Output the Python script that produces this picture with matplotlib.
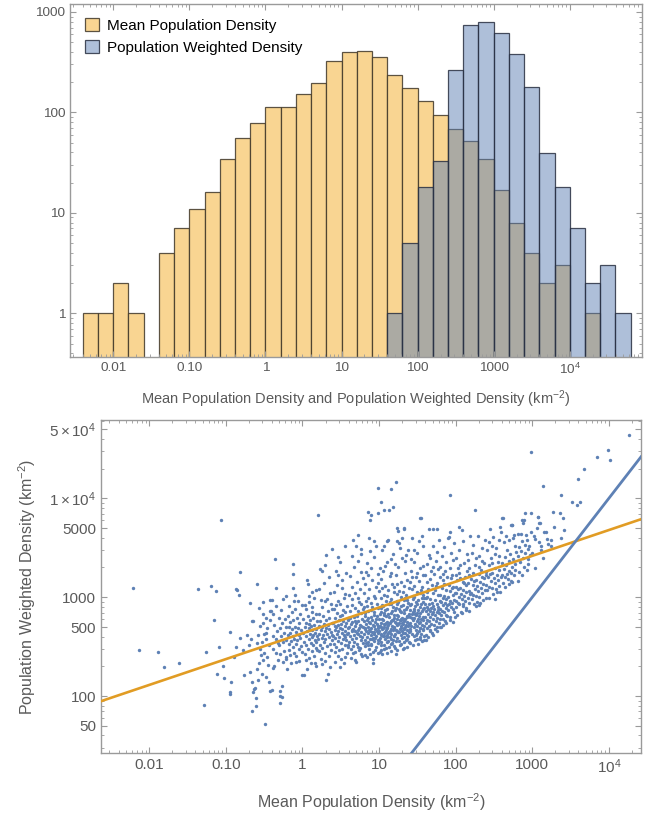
import numpy as np
import matplotlib.pyplot as plt
from matplotlib.patches import Patch
from matplotlib.ticker import LogLocator, NullFormatter

plt.rcParams['font.family'] = ['Liberation Sans', 'DejaVu Sans']
plt.rcParams['mathtext.fontset'] = 'custom'
plt.rcParams['mathtext.rm'] = 'Liberation Sans'
plt.rcParams['mathtext.it'] = 'Liberation Sans:italic'

# ---- histogram data: 0.2-decade bins starting at 10^-2.4 ----
BIN_START, BIN_WIDTH = -2.4, 0.2
mean_counts = [1, 1, 2, 1, 0, 4, 7, 11, 16, 34, 56, 79, 114, 112, 152, 195, 322,
               398, 413, 355, 235, 174, 131, 94, 68, 52, 34, 17, 8, 4, 2, 3, 0,
               1, 0, 0]
weighted_counts = [0, 0, 0, 0, 0, 0, 0, 0, 0, 0, 0, 0, 0, 0, 0, 0, 0, 0, 0, 0,
                   1, 5, 18, 33, 264, 738, 795, 618, 385, 178, 39, 18, 7, 2, 3, 1]

# ---- scatter: (log10 mean density, log10 weighted density) pairs ----
sparse_left = [
    -2.21, 3.09, -2.14, 2.47, -1.89, 2.45, -1.81, 2.29, -1.61, 2.34,
    -1.37, 3.08, -1.29, 1.91, -1.26, 2.45, -1.20, 3.11,
    -1.16, 2.77, -1.13, 3.06, -1.11, 2.22, -1.09, 2.50, -1.07, 3.78, -1.04, 2.30, -1.03, 2.18,
    -0.95, 2.04, -0.94, 2.02, -0.94, 2.65, -0.93, 2.14, -0.90, 2.40, -0.87, 3.08, -0.86, 3.07,
    -0.87, 2.50, -0.83, 3.02, -0.81, 3.26, -0.81, 2.59,
    -0.78, 2.47, -0.76, 2.21, -0.73, 2.62, -0.70, 2.52, -0.69, 2.24, -0.68, 2.94, -0.67, 2.58,
    -0.66, 2.76, -0.65, 2.76, -0.66, 2.14, -0.66, 1.85, -0.64, 2.04, -0.63, 2.07, -0.62, 2.08,
    -0.61, 1.98, -0.61, 1.90,
    -0.59, 3.13, -0.59, 2.54, -0.59, 2.27, -0.58, 2.16, -0.57, 2.33, -0.54, 2.42, -0.52, 2.95,
    -0.52, 2.74, -0.52, 2.37, -0.49, 1.72, -0.48, 2.79, -0.48, 2.64, -0.48, 2.19, -0.42, 2.86,
    -0.41, 2.86, -0.42, 2.97, -0.40, 2.97, -0.42, 2.05, -0.40, 2.06,
    -0.58, 2.62, -0.56, 2.48, -0.55, 2.71, -0.53, 2.55, -0.51, 2.83, -0.50, 2.44, -0.47, 2.58,
    -0.46, 2.69, -0.45, 2.31, -0.44, 2.52, -0.43, 2.77, -0.44, 2.14, -0.57, 2.89, -0.50, 2.63,
    -0.46, 2.40, -0.53, 2.22,
]

cloud_low = [
    # -0.4 .. -0.2
    -0.39, 2.28, -0.36, 3.39, -0.34, 3.09, -0.37, 2.30, -0.30, 2.05, -0.29, 1.93, -0.27, 2.10,
    -0.27, 1.99, -0.32, 2.54, -0.22, 3.01, -0.29, 2.00, -0.38, 2.48,
    -0.39, 2.61, -0.38, 2.83, -0.37, 2.72, -0.35, 2.44, -0.35, 2.58, -0.34, 2.91, -0.33, 2.66,
    -0.32, 2.37, -0.31, 2.79, -0.31, 2.52, -0.30, 2.69, -0.29, 2.43, -0.28, 2.87, -0.28, 2.61,
    -0.27, 2.74, -0.26, 2.35, -0.26, 2.55, -0.25, 2.98, -0.24, 2.64, -0.24, 2.46, -0.23, 2.78,
    -0.22, 2.57, -0.21, 2.70, -0.21, 2.40,
    # -0.2 .. 0
    -0.20, 2.27, -0.21, 2.38, -0.16, 2.42, -0.13, 3.23, -0.12, 3.34, -0.13, 3.09, -0.10, 3.02,
    -0.09, 2.35, -0.11, 2.96,
    -0.19, 2.62, -0.19, 2.81, -0.18, 2.53, -0.18, 2.70, -0.17, 2.47, -0.17, 2.91, -0.16, 2.64,
    -0.16, 2.75, -0.15, 2.56, -0.15, 2.33, -0.14, 2.68, -0.14, 2.85, -0.13, 2.50, -0.12, 2.61,
    -0.12, 2.77, -0.11, 2.44, -0.11, 2.58, -0.10, 2.70, -0.10, 2.88, -0.09, 2.53, -0.08, 2.65,
    -0.08, 2.41, -0.07, 2.79, -0.07, 2.57, -0.06, 2.69, -0.06, 2.96, -0.05, 2.48, -0.05, 2.62,
    -0.04, 2.74, -0.04, 2.36, -0.03, 2.59, -0.03, 2.83, -0.02, 2.51, -0.02, 2.67, -0.01, 2.45,
    -0.01, 2.92,
    # 0 .. 0.2
    0.06, 3.17, 0.06, 2.27, 0.02, 2.21, 0.16, 2.33, 0.20, 3.83, 0.07, 3.13, 0.00, 2.21, 0.12, 3.05,
    0.01, 2.64, 0.01, 2.78, 0.02, 2.55, 0.03, 2.70, 0.03, 2.43, 0.04, 2.61, 0.04, 2.88, 0.05, 2.52,
    0.05, 2.74, 0.06, 2.66, 0.07, 2.48, 0.07, 2.81, 0.08, 2.58, 0.08, 2.69, 0.09, 2.39, 0.09, 2.95,
    0.10, 2.63, 0.10, 2.77, 0.11, 2.54, 0.11, 2.71, 0.12, 2.46, 0.12, 2.85, 0.13, 2.60, 0.13, 2.67,
    0.14, 2.52, 0.14, 2.79, 0.15, 2.41, 0.15, 2.72, 0.15, 2.99, 0.16, 2.57, 0.16, 2.64, 0.17, 2.49,
    0.17, 2.83, 0.18, 2.68, 0.18, 2.55, 0.18, 2.30, 0.19, 2.76, 0.19, 2.61, 0.03, 2.92, 0.08, 3.01,
    0.11, 2.34, 0.13, 2.90, 0.05, 2.37, 0.17, 3.07, 0.09, 2.73, 0.14, 2.62, 0.19, 2.47,
    # 0.2 .. 0.4
    0.23, 3.29, 0.25, 3.27, 0.31, 3.43, 0.29, 3.33, 0.31, 2.16, 0.38, 3.49, 0.33, 2.22,
    0.20, 2.58, 0.21, 2.71, 0.21, 2.46, 0.22, 2.83, 0.22, 2.63, 0.23, 2.52, 0.23, 2.76, 0.24, 2.67,
    0.24, 2.38, 0.25, 2.59, 0.25, 2.90, 0.26, 2.70, 0.26, 2.49, 0.27, 2.62, 0.27, 2.81, 0.28, 2.55,
    0.28, 2.73, 0.29, 2.44, 0.29, 2.66, 0.30, 2.96, 0.30, 2.58, 0.31, 2.69, 0.31, 2.77, 0.32, 2.51,
    0.32, 2.63, 0.33, 2.86, 0.33, 2.72, 0.34, 2.41, 0.34, 2.60, 0.35, 2.68, 0.35, 2.79, 0.36, 2.53,
    0.36, 3.04, 0.37, 2.65, 0.37, 2.47, 0.38, 2.74, 0.38, 2.57, 0.39, 2.88, 0.39, 2.62, 0.22, 3.08,
    0.26, 2.32, 0.28, 3.14, 0.32, 2.98, 0.34, 3.20, 0.36, 2.29, 0.24, 2.97, 0.37, 2.93, 0.30, 2.36,
]

cloud_mid = [
    # 0.4 .. 0.6
    0.55, 3.52, 0.47, 3.41, 0.49, 3.36, 0.49, 2.29, 0.44, 3.27,
    0.40, 2.61, 0.40, 2.74, 0.41, 2.53, 0.41, 2.88, 0.42, 2.67, 0.42, 2.45, 0.43, 2.79, 0.43, 2.59,
    0.44, 2.70, 0.44, 2.50, 0.45, 2.63, 0.45, 2.84, 0.46, 2.56, 0.46, 2.72, 0.47, 2.66, 0.47, 2.41,
    0.48, 2.77, 0.48, 2.60, 0.49, 2.69, 0.49, 2.93, 0.50, 2.54, 0.50, 2.73, 0.51, 2.64, 0.51, 2.82,
    0.52, 2.48, 0.52, 2.68, 0.53, 2.58, 0.53, 2.76, 0.54, 2.62, 0.54, 2.99, 0.55, 2.71, 0.55, 2.52,
    0.56, 2.66, 0.56, 2.85, 0.57, 2.57, 0.57, 2.74, 0.58, 2.44, 0.58, 2.63, 0.59, 2.79, 0.59, 2.69,
    0.41, 3.05, 0.43, 2.35, 0.45, 3.12, 0.47, 2.96, 0.50, 2.38, 0.52, 3.17, 0.54, 2.33, 0.56, 3.03,
    0.58, 2.91, 0.44, 2.92, 0.46, 3.22, 0.48, 2.47, 0.51, 3.09, 0.53, 2.87, 0.55, 2.60, 0.57, 3.25,
    0.59, 2.50, 0.42, 2.71, 0.49, 2.81, 0.56, 2.40,
    # 0.6 .. 0.8
    0.73, 3.63, 0.66, 3.58, 0.70, 3.52, 0.77, 3.49, 0.70, 2.35,
    0.60, 2.64, 0.60, 2.77, 0.61, 2.55, 0.61, 2.70, 0.62, 2.86, 0.62, 2.61, 0.63, 2.48, 0.63, 2.73,
    0.64, 2.66, 0.64, 2.92, 0.65, 2.58, 0.65, 2.75, 0.66, 2.51, 0.66, 2.68, 0.67, 2.80, 0.67, 2.62,
    0.68, 2.71, 0.68, 2.45, 0.69, 2.66, 0.69, 2.89, 0.70, 2.59, 0.70, 2.74, 0.71, 2.53, 0.71, 2.81,
    0.72, 2.67, 0.72, 2.63, 0.73, 2.76, 0.73, 2.50, 0.74, 2.69, 0.74, 2.95, 0.75, 2.61, 0.75, 2.72,
    0.76, 2.57, 0.76, 2.84, 0.77, 2.65, 0.77, 2.43, 0.78, 2.78, 0.78, 2.60, 0.79, 2.70, 0.79, 2.54,
    0.61, 3.02, 0.62, 3.21, 0.63, 2.39, 0.64, 3.10, 0.65, 2.98, 0.66, 2.44, 0.67, 3.31, 0.68, 3.04,
    0.69, 2.37, 0.71, 3.15, 0.72, 2.99, 0.73, 3.37, 0.74, 2.47, 0.75, 3.08, 0.76, 3.26, 0.77, 2.93,
    0.78, 2.41, 0.79, 3.19, 0.60, 2.52, 0.62, 2.79, 0.65, 2.67, 0.67, 2.55, 0.69, 2.76, 0.71, 2.64,
    0.73, 2.86, 0.75, 2.49, 0.77, 2.71, 0.79, 2.88, 0.64, 3.42, 0.76, 3.44,
    # 0.8 .. 1.0
    0.86, 3.86, 0.90, 3.83, 0.88, 3.78, 0.98, 3.85, 0.98, 4.10, 0.94, 3.57,
    0.80, 2.63, 0.80, 2.76, 0.81, 2.57, 0.81, 2.69, 0.82, 2.84, 0.82, 2.51, 0.83, 2.66, 0.83, 2.73,
    0.84, 2.60, 0.84, 2.91, 0.85, 2.55, 0.85, 2.70, 0.86, 2.64, 0.86, 2.79, 0.87, 2.48, 0.87, 2.67,
    0.88, 2.58, 0.88, 2.74, 0.89, 2.62, 0.89, 2.87, 0.90, 2.53, 0.90, 2.69, 0.91, 2.65, 0.91, 2.77,
    0.92, 2.59, 0.92, 2.45, 0.93, 2.71, 0.93, 2.63, 0.94, 2.82, 0.94, 2.56, 0.95, 2.68, 0.95, 2.75,
    0.96, 2.61, 0.96, 2.50, 0.97, 2.73, 0.97, 2.66, 0.98, 2.57, 0.98, 2.89, 0.99, 2.64, 0.99, 2.71,
    0.80, 3.04, 0.81, 2.42, 0.82, 3.13, 0.83, 2.96, 0.84, 2.40, 0.85, 3.22, 0.86, 2.99, 0.87, 3.08,
    0.88, 2.43, 0.89, 3.30, 0.90, 2.94, 0.91, 3.17, 0.92, 2.38, 0.93, 3.01, 0.94, 3.41, 0.95, 2.47,
    0.96, 3.10, 0.97, 2.93, 0.98, 3.24, 0.99, 2.44, 0.81, 2.81, 0.83, 2.54, 0.85, 2.86, 0.87, 2.75,
    0.89, 2.52, 0.91, 2.58, 0.93, 2.85, 0.95, 2.59, 0.97, 2.81, 0.99, 2.54, 0.82, 2.68, 0.84, 2.77,
    0.86, 2.52, 0.88, 2.66, 0.90, 2.80, 0.92, 2.72, 0.94, 2.65, 0.96, 2.78, 0.98, 2.69, 0.80, 2.90,
    0.84, 3.35, 0.88, 3.47, 0.92, 2.33, 0.96, 3.52, 0.83, 3.26, 0.87, 3.60, 0.91, 2.90, 0.95, 2.99,
    0.99, 3.14,
]

cloud_core = [
    # 1.0 .. 1.2
    1.03, 3.96, 1.07, 3.88, 1.13, 3.88, 1.18, 3.91, 1.16, 4.09, 1.02, 2.47, 1.10, 3.57,
    1.00, 2.66, 1.00, 2.78, 1.01, 2.59, 1.01, 2.71, 1.02, 2.85, 1.02, 2.63, 1.03, 2.55, 1.03, 2.74,
    1.04, 2.68, 1.04, 2.92, 1.05, 2.61, 1.05, 2.77, 1.06, 2.52, 1.06, 2.70, 1.07, 2.64, 1.07, 2.82,
    1.08, 2.58, 1.08, 2.73, 1.09, 2.67, 1.09, 2.49, 1.10, 2.75, 1.10, 2.62, 1.11, 2.88, 1.11, 2.69,
    1.12, 2.56, 1.12, 2.72, 1.13, 2.65, 1.13, 2.80, 1.14, 2.60, 1.14, 2.95, 1.15, 2.68, 1.15, 2.53,
    1.16, 2.76, 1.16, 2.63, 1.17, 2.71, 1.17, 2.86, 1.18, 2.57, 1.18, 2.67, 1.19, 2.79, 1.19, 2.61,
    1.00, 3.06, 1.01, 2.45, 1.02, 3.18, 1.03, 2.99, 1.04, 2.43, 1.05, 3.27, 1.06, 3.02, 1.07, 2.48,
    1.08, 3.11, 1.09, 2.96, 1.10, 3.36, 1.11, 2.44, 1.12, 3.07, 1.13, 2.50, 1.14, 3.21, 1.15, 2.98,
    1.16, 2.46, 1.17, 3.13, 1.18, 3.44, 1.19, 2.51,
    1.00, 2.57, 1.01, 2.83, 1.02, 2.70, 1.03, 2.62, 1.04, 2.78, 1.05, 2.69, 1.06, 2.84, 1.07, 2.73,
    1.08, 2.65, 1.09, 2.81, 1.10, 2.70, 1.11, 2.60, 1.12, 2.83, 1.13, 2.74, 1.14, 2.66, 1.15, 2.84,
    1.16, 2.58, 1.17, 2.77, 1.18, 2.90, 1.19, 2.69,
    1.01, 3.30, 1.03, 2.89, 1.05, 2.91, 1.07, 3.52, 1.09, 2.74, 1.11, 3.01, 1.13, 2.93, 1.15, 3.39,
    1.17, 2.54, 1.19, 3.05, 1.02, 2.52, 1.04, 3.09, 1.06, 2.61, 1.08, 2.87, 1.10, 2.55, 1.12, 2.64,
    1.14, 2.74, 1.16, 2.93, 1.18, 2.77, 1.04, 3.48, 1.08, 3.32, 1.12, 3.58, 1.16, 3.25,
    # 1.2 .. 1.4
    1.22, 4.17, 1.24, 3.70, 1.32, 3.70, 1.25, 3.67, 1.22, 2.43, 1.33, 3.69, 1.33, 2.49, 1.23, 3.57,
    1.30, 3.60,
    1.20, 2.70, 1.20, 2.82, 1.21, 2.63, 1.21, 2.75, 1.22, 2.89, 1.22, 2.67, 1.23, 2.59, 1.23, 2.78,
    1.24, 2.72, 1.24, 2.96, 1.25, 2.65, 1.25, 2.81, 1.26, 2.56, 1.26, 2.74, 1.27, 2.68, 1.27, 2.86,
    1.28, 2.62, 1.28, 2.77, 1.29, 2.71, 1.29, 2.53, 1.30, 2.79, 1.30, 2.66, 1.31, 2.92, 1.31, 2.73,
    1.32, 2.60, 1.32, 2.76, 1.33, 2.69, 1.33, 2.84, 1.34, 2.64, 1.34, 2.99, 1.35, 2.72, 1.35, 2.57,
    1.36, 2.80, 1.36, 2.67, 1.37, 2.75, 1.37, 2.90, 1.38, 2.61, 1.38, 2.71, 1.39, 2.83, 1.39, 2.65,
    1.20, 3.10, 1.21, 2.49, 1.22, 3.22, 1.23, 3.03, 1.24, 2.47, 1.25, 3.31, 1.26, 3.06, 1.27, 2.52,
    1.28, 3.15, 1.29, 3.00, 1.30, 3.40, 1.31, 2.48, 1.32, 3.11, 1.33, 2.55, 1.34, 3.25, 1.35, 3.02,
    1.36, 2.50, 1.37, 3.17, 1.38, 3.48, 1.39, 2.55,
    1.20, 2.61, 1.21, 2.87, 1.22, 2.74, 1.23, 2.66, 1.24, 2.82, 1.25, 2.73, 1.26, 2.88, 1.27, 2.77,
    1.28, 2.69, 1.29, 2.85, 1.30, 2.74, 1.31, 2.64, 1.32, 2.87, 1.33, 2.78, 1.34, 2.70, 1.35, 2.88,
    1.36, 2.62, 1.37, 2.81, 1.38, 2.94, 1.39, 2.73,
    1.21, 3.34, 1.23, 2.93, 1.25, 2.95, 1.27, 3.50, 1.29, 2.78, 1.31, 3.05, 1.33, 2.97, 1.35, 3.43,
    1.37, 2.58, 1.39, 3.09, 1.22, 2.56, 1.24, 3.13, 1.26, 2.65, 1.28, 2.91, 1.30, 2.59, 1.32, 2.68,
    1.34, 2.78, 1.36, 2.97, 1.38, 2.81, 1.26, 3.55, 1.34, 3.37,
]

cloud_upper = [
    # 1.4 .. 1.6
    1.55, 3.80, 1.54, 3.80, 1.43, 3.60, 1.56, 3.62, 1.59, 2.57,
    1.40, 2.74, 1.40, 2.87, 1.41, 2.68, 1.41, 2.80, 1.42, 2.93, 1.42, 2.71, 1.43, 2.63, 1.43, 2.83,
    1.44, 2.77, 1.44, 3.01, 1.45, 2.70, 1.45, 2.86, 1.46, 2.61, 1.46, 2.79, 1.47, 2.73, 1.47, 2.91,
    1.48, 2.67, 1.48, 2.82, 1.49, 2.76, 1.49, 2.58, 1.50, 2.84, 1.50, 2.71, 1.51, 2.97, 1.51, 2.78,
    1.52, 2.66, 1.52, 2.81, 1.53, 2.75, 1.53, 2.90, 1.54, 2.69, 1.54, 3.04, 1.55, 2.78, 1.55, 2.63,
    1.56, 2.86, 1.56, 2.72, 1.57, 2.80, 1.57, 2.95, 1.58, 2.67, 1.58, 2.77, 1.59, 2.89, 1.59, 2.71,
    1.40, 3.15, 1.41, 2.54, 1.42, 3.27, 1.43, 3.08, 1.44, 2.52, 1.45, 3.36, 1.46, 3.11, 1.47, 2.57,
    1.48, 3.20, 1.49, 3.05, 1.50, 3.45, 1.51, 2.53, 1.52, 3.16, 1.53, 2.60, 1.54, 3.30, 1.55, 3.07,
    1.56, 2.56, 1.57, 3.22, 1.58, 3.52, 1.59, 2.61,
    1.41, 2.92, 1.43, 2.79, 1.45, 2.88, 1.47, 2.83, 1.49, 2.93, 1.51, 2.87, 1.53, 2.69, 1.55, 2.93,
    1.57, 2.68, 1.59, 2.99, 1.40, 2.66, 1.42, 3.39, 1.44, 2.98, 1.46, 3.00, 1.48, 2.62, 1.50, 2.64,
    1.52, 3.57, 1.54, 2.84, 1.56, 3.10, 1.58, 3.02, 1.46, 3.48, 1.50, 3.25, 1.54, 2.58, 1.58, 3.32,
    1.44, 2.85, 1.48, 2.95, 1.52, 2.74, 1.56, 2.99, 1.43, 3.20, 1.57, 2.88,
    # 1.6 .. 1.8
    1.65, 3.69, 1.70, 3.69, 1.76, 3.69, 1.61, 2.57,
    1.60, 2.80, 1.60, 2.93, 1.61, 2.74, 1.61, 2.86, 1.62, 3.00, 1.62, 2.77, 1.63, 2.69, 1.63, 2.90,
    1.64, 2.83, 1.64, 3.08, 1.65, 2.76, 1.65, 2.93, 1.66, 2.67, 1.66, 2.86, 1.67, 2.80, 1.67, 2.98,
    1.68, 2.73, 1.68, 2.89, 1.69, 2.83, 1.69, 2.64, 1.70, 2.91, 1.70, 2.78, 1.71, 3.04, 1.71, 2.85,
    1.72, 2.72, 1.72, 2.88, 1.73, 2.82, 1.73, 2.97, 1.74, 2.76, 1.74, 3.11, 1.75, 2.85, 1.75, 2.70,
    1.76, 2.93, 1.76, 2.79, 1.77, 2.87, 1.77, 3.02, 1.78, 2.74, 1.78, 2.84, 1.79, 2.96, 1.79, 2.78,
    1.60, 3.22, 1.61, 2.62, 1.62, 3.34, 1.63, 3.15, 1.64, 2.60, 1.65, 3.43, 1.66, 3.18, 1.67, 2.66,
    1.68, 3.27, 1.69, 3.12, 1.70, 3.52, 1.71, 2.62, 1.72, 3.23, 1.73, 2.68, 1.74, 3.37, 1.75, 3.14,
    1.76, 2.66, 1.77, 3.29, 1.78, 3.58, 1.79, 2.70,
    1.61, 2.99, 1.63, 3.05, 1.65, 2.71, 1.67, 3.40, 1.69, 2.94, 1.71, 3.31, 1.73, 3.07, 1.75, 3.46,
    1.77, 2.90, 1.79, 3.20, 1.64, 2.88,
    # 1.8 .. 2.0
    1.92, 4.03, 1.92, 3.66, 1.91, 3.61, 1.89, 2.81,
    1.80, 2.88, 1.80, 3.02, 1.81, 2.82, 1.81, 2.95, 1.82, 3.09, 1.82, 2.86, 1.83, 2.78, 1.83, 2.99,
    1.84, 2.92, 1.84, 3.17, 1.85, 2.85, 1.85, 3.01, 1.86, 2.76, 1.86, 2.94, 1.87, 2.89, 1.87, 3.07,
    1.88, 2.82, 1.88, 2.98, 1.89, 2.92, 1.90, 3.00, 1.90, 2.87, 1.91, 3.12, 1.91, 2.93, 1.92, 2.80,
    1.93, 2.96, 1.93, 3.06, 1.94, 2.90, 1.94, 3.19, 1.95, 2.94, 1.96, 3.02, 1.96, 2.88, 1.97, 3.10,
    1.98, 2.85, 1.98, 2.97, 1.99, 3.04,
    1.80, 3.31, 1.81, 2.70, 1.82, 3.42, 1.83, 3.24, 1.84, 2.72, 1.85, 3.51, 1.86, 3.27, 1.87, 2.74,
    1.88, 3.36, 1.89, 3.20, 1.90, 3.60, 1.92, 3.30, 1.93, 2.77, 1.94, 3.45, 1.95, 3.22, 1.96, 2.75,
    1.97, 3.38, 1.98, 3.55, 1.99, 2.80, 1.95, 3.09, 1.85, 3.13,
]

cloud_high = [
    # 2.0 .. 2.2
    2.04, 3.71, 2.08, 3.68, 2.10, 2.93,
    2.00, 2.96, 2.00, 3.10, 2.01, 2.90, 2.01, 3.04, 2.02, 3.17, 2.03, 2.94, 2.03, 3.08, 2.04, 3.00,
    2.05, 3.25, 2.05, 2.93, 2.06, 3.09, 2.07, 2.85, 2.07, 3.03, 2.08, 2.98, 2.09, 3.15, 2.09, 2.91,
    2.10, 3.07, 2.11, 3.01, 2.12, 3.20, 2.12, 2.96, 2.13, 3.12, 2.14, 2.89, 2.14, 3.05, 2.15, 3.27,
    2.16, 2.99, 2.16, 3.14, 2.17, 3.06, 2.18, 2.94, 2.18, 3.22, 2.19, 3.03,
    2.00, 3.40, 2.02, 2.82, 2.04, 3.48, 2.06, 3.33, 2.08, 2.84, 2.10, 3.57, 2.11, 3.35, 2.13, 2.87,
    2.15, 3.44, 2.17, 3.30, 2.19, 3.62, 2.01, 3.22, 2.06, 3.19, 2.11, 3.14, 2.16, 3.38, 2.18, 2.86,
    2.03, 3.30,
    # 2.2 .. 2.4
    2.25, 3.88, 2.30, 2.92,
    2.20, 3.04, 2.20, 3.18, 2.21, 2.98, 2.22, 3.12, 2.22, 3.25, 2.23, 3.02, 2.24, 3.16, 2.25, 3.08,
    2.25, 3.33, 2.26, 3.01, 2.27, 3.17, 2.28, 2.95, 2.28, 3.11, 2.29, 3.06, 2.30, 3.23, 2.31, 3.00,
    2.32, 3.15, 2.33, 3.09, 2.33, 3.28, 2.34, 3.04, 2.35, 3.20, 2.36, 2.97, 2.36, 3.13, 2.37, 3.35,
    2.38, 3.07, 2.39, 3.22,
    2.21, 3.45, 2.23, 3.53, 2.26, 3.40, 2.27, 2.91, 2.29, 3.62, 2.31, 3.42, 2.32, 2.94, 2.34, 3.50,
    2.35, 3.37, 2.38, 3.58, 2.39, 2.99, 2.24, 2.93, 2.30, 3.31, 2.37, 3.19,
    # 2.4 .. 2.6
    2.45, 3.69, 2.58, 3.71, 2.52, 2.98, 2.54, 3.05,
    2.40, 3.12, 2.40, 3.26, 2.41, 3.07, 2.42, 3.20, 2.43, 3.33, 2.44, 3.10, 2.45, 3.24, 2.46, 3.16,
    2.46, 3.40, 2.47, 3.09, 2.48, 3.25, 2.49, 3.03, 2.50, 3.19, 2.51, 3.14, 2.52, 3.30, 2.53, 3.08,
    2.54, 3.22, 2.55, 3.17, 2.55, 3.36, 2.56, 3.11, 2.57, 3.28, 2.58, 3.05, 2.59, 3.20,
    2.41, 3.48, 2.43, 3.56, 2.44, 2.99, 2.47, 3.52, 2.49, 3.61, 2.51, 3.44, 2.53, 3.50, 2.56, 3.58,
    2.57, 3.42, 2.59, 3.66, 2.48, 3.35,
    # 2.6 .. 2.8
    2.62, 3.80, 2.61, 3.80, 2.74, 3.73, 2.73, 3.73, 2.69, 3.13, 2.72, 3.16, 2.72, 3.25, 2.74, 3.15,
    2.72, 3.73,
    2.60, 3.22, 2.61, 3.35, 2.62, 3.14, 2.63, 3.29, 2.64, 3.41, 2.65, 3.20, 2.66, 3.33, 2.67, 3.24,
    2.67, 3.48, 2.68, 3.18, 2.69, 3.37, 2.70, 3.27, 2.71, 3.44, 2.73, 3.31, 2.75, 3.39, 2.76, 3.22,
    2.77, 3.52, 2.78, 3.34, 2.79, 3.46, 2.63, 3.56, 2.66, 3.62, 2.70, 3.58, 2.75, 3.60, 2.78, 3.28,
    2.64, 3.10, 2.76, 3.63,
]

sparse_right = [
    2.82, 3.64, 2.86, 3.78, 2.88, 3.75, 2.85, 3.64, 2.92, 3.63, 2.94, 3.49, 2.94, 3.39, 2.82, 3.16,
    2.89, 3.31, 2.93, 3.28, 2.95, 3.34, 2.90, 3.85, 2.99, 4.47, 2.99, 3.85, 2.99, 3.66, 2.89, 3.78,
    2.81, 3.42, 2.83, 3.51, 2.84, 3.36, 2.85, 3.47, 2.87, 3.57, 2.88, 3.40, 2.90, 3.53, 2.91, 3.45,
    2.93, 3.58, 2.96, 3.52, 2.97, 3.43, 2.83, 3.26, 2.86, 3.22,
    3.02, 3.62, 3.04, 3.59, 3.09, 3.56, 3.11, 3.52, 3.14, 4.13, 3.14, 3.40, 3.07, 3.81, 3.08, 3.81,
    3.09, 3.75, 3.10, 3.75, 3.18, 3.66, 3.19, 3.59, 3.00, 3.45, 3.15, 3.66, 3.06, 3.70, 3.12, 3.48,
    3.03, 3.30,
    3.24, 3.52, 3.20, 3.54, 3.25, 3.58, 3.27, 3.86, 3.29, 3.71, 3.38, 4.03, 3.36, 3.85, 3.38, 3.60,
    3.40, 3.80, 3.42, 3.68, 3.52, 3.96, 3.58, 3.93, 3.62, 3.96, 3.60, 4.20, 3.68, 4.30,
    3.84, 4.42, 3.99, 4.49, 4.01, 4.39, 4.26, 4.64,
]

# power-law fit (orange) and the y = x line (blue)
fit_coef, fit_exp = 432.0, 0.261

ORANGE = '#E19C24'
BLUE = '#5E81B5'
GRAY_TXT = '#5a5a5a'
GRAY_AX = '#9a9a9a'


def style_axes(ax, labelsize):
    for s in ax.spines.values():
        s.set_color(GRAY_AX)
        s.set_linewidth(1.0)
    ax.tick_params(which='both', direction='in', top=True, right=True,
                   colors=GRAY_AX, labelcolor=GRAY_TXT, labelsize=labelsize)
    ax.tick_params(which='major', length=4.5, width=0.8)
    ax.tick_params(which='minor', length=2.5, width=0.6)
    ax.xaxis.set_minor_locator(LogLocator(base=10, subs=np.arange(2, 10), numticks=30))
    ax.xaxis.set_minor_formatter(NullFormatter())
    ax.yaxis.set_minor_formatter(NullFormatter())


fig = plt.figure(figsize=(6.47, 8.18), dpi=100)

# ---------------- top: histograms ----------------
ax1 = fig.add_axes([70 / 647, 1 - 357 / 818, 572 / 647, 353 / 818])
n_bins = len(mean_counts)
lo = 10 ** (BIN_START + BIN_WIDTH * np.arange(n_bins))
hi = 10 ** (BIN_START + BIN_WIDTH * (np.arange(n_bins) + 1))
m = np.array(mean_counts, dtype=float)
w = np.array(weighted_counts, dtype=float)
ax1.bar(lo[m > 0], m[m > 0], width=(hi - lo)[m > 0], align='edge', bottom=1e-3,
        facecolor='#F9D592', edgecolor=(0.25, 0.22, 0.16, 0.85), linewidth=0.9)
ax1.bar(lo[w > 0], w[w > 0], width=(hi - lo)[w > 0], align='edge', bottom=1e-3,
        facecolor=(0.369, 0.506, 0.710, 0.5), edgecolor=(0.16, 0.19, 0.26, 0.85),
        linewidth=0.9)
ax1.set_xscale('log')
ax1.set_yscale('log')
ax1.set_xlim(0.0027, 89000)
ax1.set_ylim(0.367, 1200)
style_axes(ax1, 9.7)
ax1.yaxis.set_minor_locator(LogLocator(base=10, subs=np.arange(2, 10), numticks=30))
ax1.set_xticks([0.01, 0.1, 1, 10, 100, 1000, 1e4],
               ['0.01', '0.10', '1', '10', '100', '1000', r'$10^4$'])
ax1.set_yticks([1, 10, 100, 1000], ['1', '10', '100', '1000'])
ax1.set_xlabel('Mean Population Density and Population Weighted Density (km$^{-2}$)',
               fontsize=10.5, color=GRAY_TXT, labelpad=8)
handles = [Patch(facecolor='#F9D592', edgecolor=(0.25, 0.22, 0.16, 0.85), linewidth=0.9),
           Patch(facecolor='#AFC0DA', edgecolor=(0.16, 0.19, 0.26, 0.85), linewidth=0.9)]
ax1.legend(handles, ['Mean Population Density', 'Population Weighted Density'],
           loc='upper left', bbox_to_anchor=(0.01, 0.985), frameon=False, fontsize=11,
           handlelength=0.9, handleheight=0.9, handletextpad=0.55, labelspacing=0.45,
           borderaxespad=0.2)

# ---------------- bottom: scatter ----------------
ax2 = fig.add_axes([101 / 647, 1 - 753 / 818, 540 / 647, 333 / 818])
pts = np.array(sparse_left + cloud_low + cloud_mid + cloud_core + cloud_upper +
               cloud_high + sparse_right).reshape(-1, 2)
ax2.scatter(10 ** pts[:, 0], 10 ** pts[:, 1], s=6, marker='o', color=BLUE,
            linewidths=0, zorder=2)
ax2.set_xscale('log')
ax2.set_yscale('log')
xlim = (0.00234, 26300)
ax2.set_xlim(*xlim)
ax2.set_ylim(26.6, 62000)
xs = np.array(xlim)
ax2.plot(xs, fit_coef * xs ** fit_exp, color=ORANGE, lw=1.9, zorder=3)
ax2.plot(xs, xs, color=BLUE, lw=2.0, zorder=3)
style_axes(ax2, 11)
ax2.set_xticks([0.01, 0.1, 1, 10, 100, 1000, 1e4],
               ['0.01', '0.10', '1', '10', '100', '1000', r'$10^4$'])
ax2.set_yticks([50, 100, 500, 1000, 5000, 1e4, 5e4],
               ['50', '100', '500', '1000', '5000', r'$1\times10^4$', r'$5\times10^4$'])
ax2.yaxis.set_minor_locator(LogLocator(base=10, subs=(2, 3, 4, 6, 7, 8, 9), numticks=30))
ax2.set_xlabel('Mean Population Density (km$^{-2}$)', fontsize=11.5, color=GRAY_TXT,
               labelpad=11)
ax2.set_ylabel('Population Weighted Density (km$^{-2}$)', fontsize=11.5, color=GRAY_TXT,
               labelpad=8)

fig.savefig('out.png', dpi=100)
